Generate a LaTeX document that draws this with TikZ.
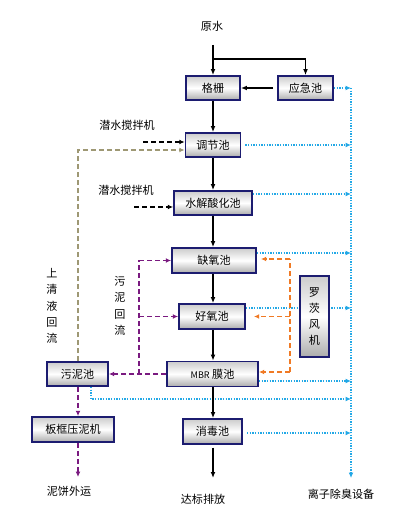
\documentclass[tikz,border=0pt]{standalone}
\usepackage{fontspec}
\setmainfont{Noto Sans CJK SC}
\usetikzlibrary{arrows.meta}
\definecolor{navy}{HTML}{1C1C70}
\definecolor{cblue}{HTML}{22A8E6}
\definecolor{corange}{HTML}{F07A24}
\definecolor{cpurple}{HTML}{7A1A80}
\definecolor{ckhaki}{HTML}{9E9874}
\tikzset{
  box/.style={draw=navy, line width=1.3pt, inner sep=0pt, top color=gray!40, bottom color=gray!65, middle color=white, font=\fontsize{8.3}{9}\selectfont},
  sz/.style 2 args={minimum width=#1*0.75pt, minimum height=#2*0.75pt},
  flow/.style={draw=black, line width=0.9pt, -{Latex[length=4.5pt,width=3.6pt]}},
  air/.style={draw=cblue, line width=1pt, dash pattern=on 1pt off 1pt},
  airarrow/.style={air, -{Latex[length=4pt,width=3.6pt]}},
  sludge/.style={draw=cpurple, line width=1.1pt, dash pattern=on 3.5pt off 2.5pt},
  sludgearrow/.style={sludge, -{Latex[length=4pt,width=3.6pt]}},
  blow/.style={draw=corange, line width=1.1pt, dash pattern=on 3.5pt off 2.5pt, -{Latex[length=4pt,width=3.6pt]}},
  super/.style={draw=ckhaki, line width=1.1pt, dash pattern=on 3.5pt off 2.5pt, -{Latex[length=4pt,width=3.6pt]}},
  mix/.style={draw=black, line width=1.1pt, dash pattern=on 3.5pt off 2.5pt, -{Latex[length=4pt,width=3.6pt]}},
  lbl/.style={inner sep=0pt, font=\fontsize{8.3}{9}\selectfont},
  vlbl/.style={inner sep=0pt, align=center, font=\fontsize{8.3}{12.3}\selectfont}
}
\begin{document}
\begin{tikzpicture}[x=0.75pt,y=-0.75pt]
\useasboundingbox (0,0) rectangle (406,530);

\coordinate (bvt) at (351,88);
\coordinate (bvb) at (351,478);
\coordinate (wnb) at (91,399);

% boxes
\node[box, sz={54}{24}] (gs) at (213,88) {格栅};
\node[box, sz={55}{24}] (yj) at (305.5,88) {应急池};
\node[box, sz={55}{24}] (tj) at (213,145) {调节池};
\node[box, sz={78}{24}] (sj) at (213,203) {水解酸化池};
\node[box, sz={84}{25}] (qy) at (214,260.5) {缺氧池};
\node[box, sz={66}{25}] (hy) at (212,316.5) {好氧池};
\node[box, sz={91}{25}] (mbr) at (212.5,374) {{\fontsize{6.8}{7}\selectfont MBR} 膜池};
\node[box, sz={59}{25}] (xd) at (212.5,431.5) {消毒池};
\node[box, sz={61}{24}] (wn) at (77.5,374) {污泥池};
\node[box, sz={82}{25}] (bk) at (73,429.5) {板框压泥机};

% blue exhaust lines
\draw[airarrow] (yj.east) -- (bvt);
\draw[airarrow] ([xshift=3pt]tj.east) -- (tj.east -| bvt);
\draw[airarrow] (sj.north east |- 0,194) -- (bvt |- 0,194);
\draw[airarrow] (qy.north east |- 0,253) -- (bvt |- 0,253);
\draw[airarrow] (hy.north east |- 0,308) -- (bvt |- 0,308);
\draw[airarrow] (mbr.north east |- 0,381) -- (bvt |- 0,381);
\draw[airarrow] (wn.south -| wnb) -- (wnb) -- (bvt |- wnb);
\draw[airarrow] ([xshift=3pt]xd.north east |- 0,433) -- (bvt |- 0,433);
\draw[airarrow] (bvt) -- (bvb);

% blower box (over blue line)
\node[box, sz={29}{81}, align=center, font=\fontsize{8.3}{12}\selectfont] (lc) at (314.5,316.5) {罗\\茨\\风\\机};

% top
\node[lbl] (ys) at (212,26) {原水};
\coordinate (ysb) at (213,45);
\coordinate (br) at (213,59);
\draw[flow] (ysb) -- (gs.north);
\draw[flow] (br) -- (br -| yj.north) -- (yj.north);
\draw[flow] ([xshift=-3pt]yj.west) -- (gs.east);

% main column
\draw[flow] (gs.south) -- (tj.north);
\draw[flow] (tj.south) -- (sj.north);
\draw[flow] (sj.south) -- (sj.south |- qy.north);
\draw[flow] (qy.south -| sj.south) -- (sj.south |- hy.north);
\draw[flow] (hy.south -| sj.south) -- (sj.south |- mbr.north);
\draw[flow] (mbr.south -| sj.south) -- (sj.south |- xd.north);
\coordinate (out) at (213,478);
\draw[flow] ([yshift=-2pt]xd.south -| out) -- (out);
\node[lbl] (db) at (203,499) {达标排放};
\node[lbl] (lz) at (341,494) {离子除臭设备};

% mixers
\node[lbl] (m1) at (127,125) {潜水搅拌机};
\node[lbl] (m2) at (126,190) {潜水搅拌机};
\coordinate (m1s) at (143,142);
\coordinate (m2s) at (134,207);
\draw[mix] (m1s) -- (tj.west |- m1s);
\draw[mix] (m2s) -- (sj.west |- m2s);

% supernatant return
\coordinate (kt) at (78,150);
\draw[super] (wn.north -| kt) -- (kt) -- (tj.west |- kt);
\node[vlbl] (sq) at (52,306) {上\\清\\液\\回\\流};

% sludge return
\coordinate (pt) at (139,260.5);
\coordinate (pb) at (139,374);
\draw[sludgearrow] (mbr.west) -- (wn.east);
\draw[sludge] (pb) -- (pt);
\draw[sludgearrow] (pt) -- (qy.west);
\draw[sludgearrow] (pt |- hy.west) -- (hy.west);
\node[vlbl] (wh) at (120,306) {污\\泥\\回\\流};

% sludge treatment
\coordinate (cake) at (78,477);
\draw[sludgearrow] (wn.south -| cake) -- (bk.north -| cake);
\draw[sludgearrow] (bk.south -| cake) -- (cake);
\node[lbl] (nb) at (69,491) {泥饼外运};

% blower air
\coordinate (ot) at (290,259);
\coordinate (om) at (290,316.5);
\coordinate (ob) at (290,372);
\draw[blow] (ob) -- (ob -| mbr.east);
\draw[corange, line width=1.1pt, dash pattern=on 3.5pt off 2.5pt] (ob) -- (ot);
\draw[blow] (ot) -- ([xshift=3pt]ot -| qy.east);
\draw[blow] (om) -- ([xshift=6pt]om -| hy.east);
\end{tikzpicture}
\end{document}
